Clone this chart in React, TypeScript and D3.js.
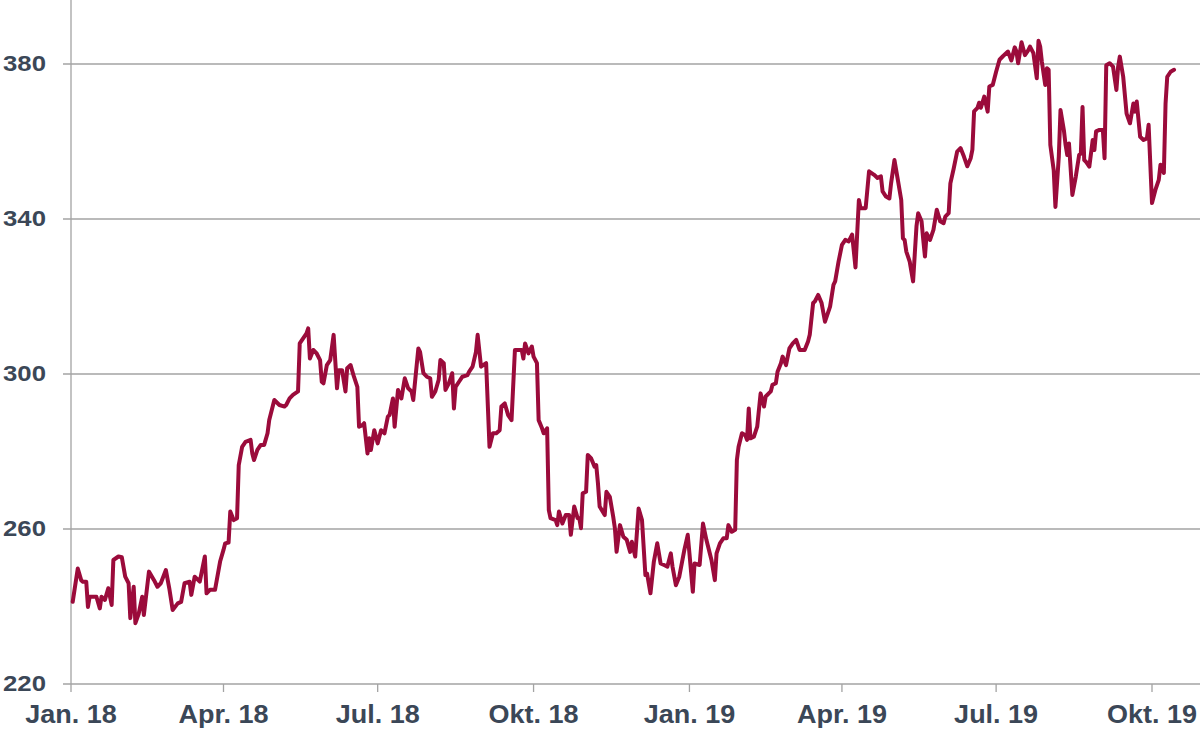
import React from "react";
import * as d3 from "d3";

type Pt = [string, number];

const q1_2018: Pt[] = [["2018-01-02",241.2],["2018-01-05",249.8],["2018-01-07",246.8],["2018-01-08",246.4],["2018-01-10",246.4],["2018-01-11",239.9],["2018-01-12",242.5],["2018-01-14",242.5],["2018-01-16",242.5],["2018-01-18",239.5],["2018-01-19",242.5],["2018-01-21",241.7],["2018-01-23",244.7],["2018-01-25",240.4],["2018-01-26",252],["2018-01-29",252.9],["2018-01-31",252.7],["2018-02-02",247.7],["2018-02-04",246],["2018-02-05",237],["2018-02-07",245.1],["2018-02-08",235.7],["2018-02-10",238.2],["2018-02-12",242.5],["2018-02-13",237.8],["2018-02-16",249],["2018-02-19",246.8],["2018-02-21",245.1],["2018-02-23",246],["2018-02-26",249.4],["2018-02-28",244.7],["2018-03-02",239.1],["2018-03-05",240.8],["2018-03-07",241.2],["2018-03-09",246],["2018-03-12",246.4],["2018-03-13",243],["2018-03-15",247.7],["2018-03-18",246.4],["2018-03-21",252.9],["2018-03-22",243.4],["2018-03-24",244.3],["2018-03-27",244.3],["2018-03-30",251.6]];

const q2_2018: Pt[] = [["2018-04-01",254.6],["2018-04-02",256.3],["2018-04-04",256.5],["2018-04-05",264.5],["2018-04-07",262.3],["2018-04-09",262.8],["2018-04-10",276.5],["2018-04-12",281.2],["2018-04-14",282.5],["2018-04-17",283],["2018-04-18",279.5],["2018-04-19",277.8],["2018-04-21",280.4],["2018-04-23",281.7],["2018-04-25",281.7],["2018-04-27",284.7],["2018-04-28",288.1],["2018-05-01",293.3],["2018-05-04",292],["2018-05-07",291.6],["2018-05-08",292],["2018-05-10",293.7],["2018-05-12",294.6],["2018-05-15",295.5],["2018-05-16",307.9],["2018-05-18",309.2],["2018-05-20",310.5],["2018-05-21",311.8],["2018-05-22",304],["2018-05-24",306.2],["2018-05-26",305.3],["2018-05-28",303.6],["2018-05-29",298],["2018-05-30",297.6],["2018-06-01",302.3],["2018-06-03",303.6],["2018-06-05",310.1],["2018-06-07",296.3],["2018-06-08",301],["2018-06-10",301],["2018-06-12",295.5],["2018-06-13",301.5],["2018-06-15",302.3],["2018-06-17",299.3],["2018-06-19",296.7],["2018-06-20",286.4],["2018-06-22",286.8],["2018-06-23",287.3],["2018-06-25",279.5],["2018-06-26",283.4],["2018-06-27",280.4],["2018-06-29",285.5]];

const q3_2018: Pt[] = [["2018-07-01",282.1],["2018-07-03",285.5],["2018-07-05",284.7],["2018-07-07",289],["2018-07-08",289.4],["2018-07-10",293.7],["2018-07-11",286.4],["2018-07-13",295.9],["2018-07-15",293.7],["2018-07-17",298.9],["2018-07-19",296.3],["2018-07-21",295.5],["2018-07-22",293.3],["2018-07-25",306.6],["2018-07-26",305.7],["2018-07-28",300.2],["2018-07-30",299.3],["2018-08-01",298.9],["2018-08-02",294.1],["2018-08-04",295.5],["2018-08-06",298.5],["2018-08-07",303.6],["2018-08-09",302.8],["2018-08-10",295.9],["2018-08-12",297.6],["2018-08-14",300.2],["2018-08-15",291.1],["2018-08-16",296.7],["2018-08-18",298],["2018-08-20",299.3],["2018-08-23",299.7],["2018-08-24",300.6],["2018-08-26",301.9],["2018-08-28",305.7],["2018-08-29",310.1],["2018-08-31",301.9],["2018-09-03",302.8],["2018-09-05",281.2],["2018-09-07",284.7],["2018-09-09",284.7],["2018-09-11",285.5],["2018-09-12",291.6],["2018-09-14",292.4],["2018-09-16",289.4],["2018-09-18",288.1],["2018-09-20",306.2],["2018-09-22",306.2],["2018-09-24",306.2],["2018-09-25",304],["2018-09-26",307.9],["2018-09-28",305.3],["2018-09-30",307.1]];

const q4_2018: Pt[] = [["2018-10-01",304.5],["2018-10-03",302.8],["2018-10-04",288.1],["2018-10-06",286],["2018-10-07",284.7],["2018-10-09",286],["2018-10-10",264.9],["2018-10-11",262.8],["2018-10-14",262.3],["2018-10-15",261],["2018-10-16",264.5],["2018-10-18",261.4],["2018-10-20",263.6],["2018-10-22",263.6],["2018-10-23",258.5],["2018-10-25",265.8],["2018-10-27",262.8],["2018-10-28",262.8],["2018-10-29",260.2],["2018-10-30",269.2],["2018-11-01",269.6],["2018-11-02",279.1],["2018-11-04",278.2],["2018-11-06",276.1],["2018-11-07",276.5],["2018-11-08",271.8],["2018-11-09",265.8],["2018-11-12",263.6],["2018-11-13",269.6],["2018-11-15",268.3],["2018-11-17",263.2],["2018-11-18",260.2],["2018-11-19",254.1],["2018-11-21",261],["2018-11-23",258],["2018-11-25",257.2],["2018-11-27",254.1],["2018-11-28",256.7],["2018-11-30",252.9],["2018-12-02",265.3],["2018-12-04",262.3],["2018-12-06",248.1],["2018-12-07",248.5],["2018-12-09",243.4],["2018-12-11",251.6],["2018-12-13",256.3],["2018-12-15",251.1],["2018-12-17",250.7],["2018-12-19",250.3],["2018-12-21",253.7],["2018-12-22",250.3],["2018-12-24",245.5],["2018-12-26",247.7],["2018-12-29",254.6],["2018-12-31",258.5]];

const q1_2019: Pt[] = [["2019-01-01",253.7],["2019-01-03",243.8],["2019-01-04",251.1],["2019-01-07",250.7],["2019-01-09",261.4],["2019-01-11",257.2],["2019-01-14",252],["2019-01-16",246.8],["2019-01-17",253.7],["2019-01-19",256.3],["2019-01-21",257.6],["2019-01-23",257.6],["2019-01-24",261],["2019-01-26",259.3],["2019-01-28",259.8],["2019-01-29",277.8],["2019-01-30",281.2],["2019-02-01",284.7],["2019-02-03",284.2],["2019-02-04",283],["2019-02-05",291.1],["2019-02-06",283.4],["2019-02-08",283.8],["2019-02-10",286.4],["2019-02-12",295],["2019-02-14",291.6],["2019-02-15",294.2],["2019-02-18",295.5],["2019-02-19",297.2],["2019-02-21",297.6],["2019-02-22",300.6],["2019-02-24",302.8],["2019-02-25",304.5],["2019-02-27",302.3],["2019-03-01",306.6],["2019-03-03",307.9],["2019-03-05",308.8],["2019-03-07",306.2],["2019-03-10",306.2],["2019-03-12",308.4],["2019-03-13",310.1],["2019-03-15",318.3],["2019-03-16",318.7],["2019-03-18",320.4],["2019-03-20",318.3],["2019-03-22",313.5],["2019-03-25",317.4],["2019-03-27",323],["2019-03-28",323.9],["2019-03-30",329]];

const q2_2019: Pt[] = [["2019-04-01",333.3],["2019-04-03",334.6],["2019-04-05",334.2],["2019-04-07",336],["2019-04-09",327.5],["2019-04-11",344.9],["2019-04-12",342.8],["2019-04-15",342.8],["2019-04-17",352.3],["2019-04-20",351.4],["2019-04-22",350.6],["2019-04-24",351],["2019-04-25",347.1],["2019-04-27",345.8],["2019-04-29",345.3],["2019-04-30",349.2],["2019-05-02",355.2],["2019-05-04",350.1],["2019-05-06",344.9],["2019-05-07",335],["2019-05-08",334.6],["2019-05-09",331.6],["2019-05-11",329],["2019-05-13",323.9],["2019-05-15",338.1],["2019-05-16",341.5],["2019-05-18",339.4],["2019-05-19",334.6],["2019-05-20",330.3],["2019-05-21",336.3],["2019-05-23",334.6],["2019-05-25",337.2],["2019-05-27",342.4],["2019-05-29",339.4],["2019-05-31",338.9],["2019-06-01",340.6],["2019-06-03",341.5],["2019-06-04",349.2],["2019-06-06",353.1],["2019-06-08",357.4],["2019-06-10",358.3],["2019-06-12",356.1],["2019-06-14",353.6],["2019-06-16",355.7],["2019-06-17",357.9],["2019-06-18",367.8],["2019-06-20",368.7],["2019-06-21",370],["2019-06-22",368.7],["2019-06-24",371.6],["2019-06-26",367.7],["2019-06-27",374.2],["2019-06-29",374.6]];

const q3_2019: Pt[] = [["2019-07-01",378],["2019-07-03",381.1],["2019-07-05",382],["2019-07-08",383.2],["2019-07-10",380.9],["2019-07-12",384.3],["2019-07-13",383.2],["2019-07-14",380.2],["2019-07-16",385.6],["2019-07-18",382.3],["2019-07-20",383.6],["2019-07-21",384.5],["2019-07-23",382.8],["2019-07-25",376.3],["2019-07-26",386],["2019-07-27",384.5],["2019-07-28",380.6],["2019-07-30",374.6],["2019-07-31",378.9],["2019-08-01",378.5],["2019-08-02",359.1],["2019-08-04",352.6],["2019-08-05",343.1],["2019-08-07",356.1],["2019-08-08",368.1],["2019-08-10",362.9],["2019-08-11",359.1],["2019-08-12",356.5],["2019-08-13",359.5],["2019-08-15",346.2],["2019-08-17",350.9],["2019-08-19",356.5],["2019-08-20",356.9],["2019-08-21",368.9],["2019-08-22",355.2],["2019-08-23",354.8],["2019-08-25",353.5],["2019-08-27",360.4],["2019-08-28",357.8],["2019-08-29",362.6],["2019-08-31",363],["2019-09-02",363],["2019-09-03",355.7],["2019-09-04",379.7],["2019-09-06",380.2],["2019-09-08",379.3],["2019-09-10",373.3],["2019-09-11",379.3],["2019-09-12",381.9],["2019-09-14",376.7],["2019-09-16",367.2],["2019-09-18",364.7],["2019-09-20",369.8],["2019-09-21",367.7],["2019-09-22",370.3],["2019-09-24",361.2],["2019-09-26",360.4],["2019-09-28",360.8],["2019-09-29",364.3]];

const q4_2019: Pt[] = [["2019-10-01",344.1],["2019-10-03",347.5],["2019-10-05",350.1],["2019-10-06",354],["2019-10-08",351.9],["2019-10-09",369.8],["2019-10-10",376.7],["2019-10-12",378],["2019-10-14",378.5]];

const xTickDates = ["2018-01-01","2018-04-01","2018-07-01","2018-10-01","2019-01-01","2019-04-01","2019-07-01","2019-10-01"];
const xTickLabels = ["Jan. 18","Apr. 18","Jul. 18","Okt. 18","Jan. 19","Apr. 19","Jul. 19","Okt. 19"];
const yTicks = [220, 260, 300, 340, 380];

const W = 1200, H = 734;
const FONT = "'Liberation Sans', Arial, sans-serif";
const TEXT = "#3b4757";
const GRID = "#a3a3a3";
const LINE = "#9b0b3b";

export default function App() {
  const parse = d3.utcParse("%Y-%m-%d");
  const data = [...q1_2018, ...q2_2018, ...q3_2018, ...q4_2018, ...q1_2019, ...q2_2019, ...q3_2019, ...q4_2019]
    .map(([d, v]) => ({ date: parse(d) as Date, value: v }));

  const x = d3.scaleUtc()
    .domain([parse("2018-01-01") as Date, parse("2019-10-01") as Date])
    .range([71, 1152]);
  const y = d3.scaleLinear().domain([220, 380]).range([684, 64]);

  const line = d3.line<{ date: Date; value: number }>()
    .x(d => x(d.date))
    .y(d => y(d.value))
    .curve(d3.curveLinear);

  const x0 = 71, yBase = y(220);

  return (
    <div style={{ position: "absolute", left: 0, top: 0 }}>
      <svg width={W} height={H} style={{ display: "block", background: "#fff" }}>
        {yTicks.map(t => (
          <g key={t}>
            <line x1={63} x2={W} y1={y(t)} y2={y(t)} stroke={GRID} strokeWidth={1.3} />
            <text
              transform={`translate(46,${y(t) + 6.5}) scale(1.12,1)`}
              textAnchor="end"
              fontFamily={FONT}
              fontWeight="bold"
              fontSize={23}
              fill={TEXT}
            >{t}</text>
          </g>
        ))}
        <line x1={x0} x2={x0} y1={0} y2={yBase} stroke={GRID} strokeWidth={1.3} />
        {xTickDates.map((d, i) => {
          const xp = x(parse(d) as Date);
          return (
            <g key={d}>
              <line x1={xp} x2={xp} y1={yBase} y2={yBase + 8} stroke={GRID} strokeWidth={1.3} />
              <text
                transform={`translate(${xp},${yBase + 39}) scale(1.08,1)`}
                textAnchor="middle"
                fontFamily={FONT}
                fontWeight="bold"
                fontSize={25}
                fill={TEXT}
              >{xTickLabels[i]}</text>
            </g>
          );
        })}
        <path d={line(data) || ""} fill="none" stroke={LINE} strokeWidth={4} strokeLinejoin="round" strokeLinecap="round" />
      </svg>
    </div>
  );
}
